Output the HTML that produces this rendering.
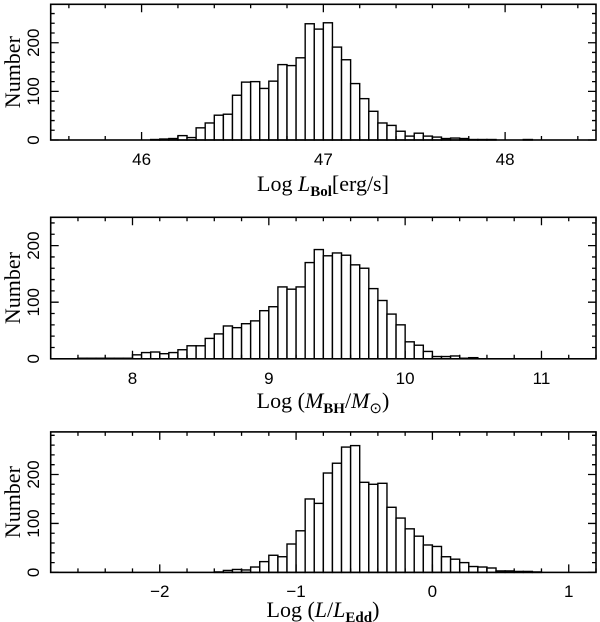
<!DOCTYPE html>
<html><head><meta charset="utf-8"><style>
html,body{margin:0;padding:0;background:#fff;}
svg{display:block;}
.tk{font-family:"Liberation Sans",sans-serif;font-size:17px;}
.ti{font-family:"Liberation Serif",serif;font-size:22px;}
</style></head><body>
<svg id="chart" width="600" height="622" viewBox="0 0 600 622" xmlns="http://www.w3.org/2000/svg"></svg>
<script>
// Panel 1: Log L_Bol, bins of 0.05 starting at 46.05
const binsStart1 = 46.05, binWidth1 = 0.05;
const counts1 = [1,2,3,9,5,25,35,51,53,92,119,120,106,121,155,153,169,239,228,241,191,165,116,85,59,35,30,18,8,14,8,6,3,4,3,1,1,1,0,0,0,1];
const xTicks1 = [46,47,48];
// Panel 2: Log MBH, bins of 1/15 starting at 7.6
const binsStart2 = 7.6, binWidth2 = 1/15;
const counts2 = [1,1,1,1,1,1,7,11,12,9,11,16,23,23,36,44,58,55,62,67,85,92,127,123,127,170,193,182,187,183,166,160,124,103,79,60,30,24,13,4,4,5,1,2];
const xTicks2 = [8,9,10,11];
// Panel 3: Log L/LEdd, bins of 1/15 starting at -1.6
const binsStart3 = -1.6, binWidth3 = 1/15;
const counts3 = [1,4,6,5,11,22,35,32,58,85,150,141,203,223,256,259,184,180,182,133,111,89,74,56,53,32,27,20,12,11,9,3,3,2,2,1];
const xTicks3 = [-2,-1,0,1];
const yTicks = [0,100,200];

const panels = [
 {name:'lbol', x0:45.5, x1:48.5, ymax:279, top:4.3, bot:140, counts:counts1, start:binsStart1, w:binWidth1, ticks:xTicks1, tickY:165, titleY:191, title:'lbol'},
 {name:'mbh', x0:7.4, x1:11.4, ymax:250, top:217.3, bot:358.8, counts:counts2, start:binsStart2, w:binWidth2, ticks:xTicks2, tickY:384, titleY:408, title:'mbh'},
 {name:'edd', x0:-2.8, x1:1.2, ymax:287, top:431.9, bot:572.4, counts:counts3, start:binsStart3, w:binWidth3, ticks:xTicks3, tickY:597, titleY:617, title:'edd'}
];
const L=50.7, R=596;
const svg=document.getElementById('chart');
const NS='http://www.w3.org/2000/svg';
function mk(tag,attrs,parent){const e=document.createElementNS(NS,tag);for(const k in attrs)e.setAttribute(k,attrs[k]);parent.appendChild(e);return e;}
panels.forEach(p=>{
  const g=mk('g',{},svg);
  
  
  const sx=v=>L+(v-p.x0)/(p.x1-p.x0)*(R-L);
  const sy=v=>p.bot-v/p.ymax*(p.bot-p.top);
  p.counts.forEach((c,i)=>{
    if(c<=0)return;
    const a=sx(p.start+i*p.w), b=sx(p.start+(i+1)*p.w);
    const r=mk('rect',{x:a,y:sy(c),width:b-a,height:p.bot-sy(c),fill:'#fff',stroke:'#000','stroke-width':1.4},g);
    
    
  });
  const f=mk('rect',{x:L,y:p.top,width:R-L,height:p.bot-p.top,fill:'none',stroke:'#000','stroke-width':1.6},g);
  
  
  let d='';
  const kStart=Math.ceil(p.x0/0.2-1e-6), kEnd=Math.floor(p.x1/0.2+1e-6);
  for(let k=kStart;k<=kEnd;k++){
    const v=k*0.2, x=sx(v), major=Math.abs(v-Math.round(v))<1e-6, len=major?8:4;
    d+=`M${x},${p.bot}v${-len}M${x},${p.top}v${len}`;
  }
  for(let v=0;v<=p.ymax;v+=20){
    const y=sy(v), len=(v%100===0)?8:4;
    d+=`M${L},${y}h${len}M${R},${y}h${-len}`;
  }
  const tp=mk('path',{d:d,stroke:'#000','stroke-width':1.3,fill:'none'},g);
  
  
  p.ticks.forEach(v=>{
    const t=mk('text',{x:sx(v),y:p.tickY,'text-anchor':'middle',class:'tk'},g);
    t.textContent=v<0?'\u2212'+(-v):String(v);
    
    
  });
  yTicks.forEach(v=>{
    const y=sy(v);
    const t=mk('text',{x:0,y:0,'text-anchor':'middle',class:'tk',transform:`translate(39,${y}) rotate(-90)`},g);
    t.textContent=String(v);
    
    
  });
  const yt=mk('text',{x:0,y:0,'text-anchor':'middle',class:'ti',transform:`translate(20,${(p.top+p.bot)/2}) rotate(-90)`},g);
  yt.textContent='Number';
  
  
  const xt=mk('text',{x:323,y:p.titleY,'text-anchor':'middle',class:'ti'},g);
  
  
  if(p.title==='lbol') xt.innerHTML='Log <tspan font-style="italic">L</tspan><tspan font-size="15" dy="5" font-weight="bold">Bol</tspan><tspan dy="-5">[erg/s]</tspan>';
  else if(p.title==='mbh') xt.innerHTML='Log (<tspan font-style="italic">M</tspan><tspan font-size="15" dy="5" font-weight="bold">BH</tspan><tspan dy="-5">/</tspan><tspan font-style="italic">M</tspan><tspan font-size="15" dy="5">\u2299</tspan><tspan dy="-5">)</tspan>';
  else xt.innerHTML='Log (<tspan font-style="italic">L</tspan>/<tspan font-style="italic">L</tspan><tspan font-size="15" dy="5" font-weight="bold">Edd</tspan><tspan dy="-5">)</tspan>';
});
</script>
</body></html>
